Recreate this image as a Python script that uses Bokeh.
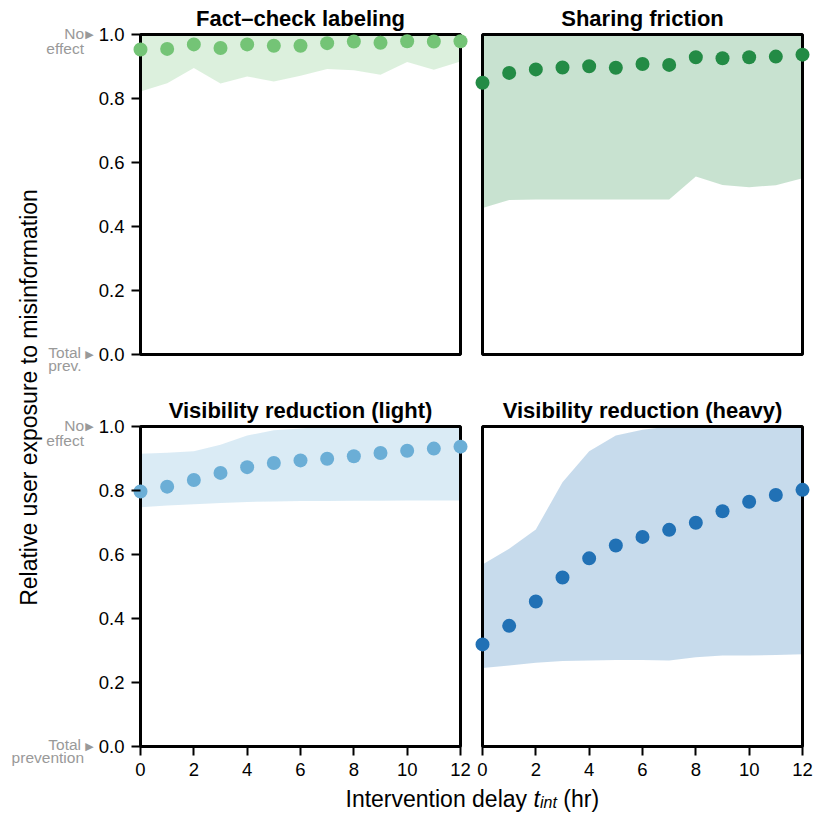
from bokeh.plotting import figure
from bokeh.models import Range1d, Label, FixedTicker, PrintfTickFormatter
from bokeh.layouts import row, column
from bokeh.embed import file_html
from bokeh.resources import INLINE

# ---------------- data ----------------
hours = list(range(13))

fact_mean = [0.953, 0.955, 0.969, 0.958, 0.969, 0.965, 0.965, 0.973, 0.978, 0.974, 0.979, 0.978, 0.979]
fact_lo = [0.822, 0.848, 0.895, 0.847, 0.869, 0.853, 0.871, 0.892, 0.888, 0.874, 0.914, 0.890, 0.916]
fact_hi = [1.0, 1.0, 1.0, 1.0, 1.0, 1.0, 1.0, 1.0, 1.0, 1.0, 1.0, 1.0, 1.0]

friction_mean = [0.849, 0.880, 0.891, 0.897, 0.901, 0.896, 0.908, 0.905, 0.929, 0.926, 0.929, 0.931, 0.937]
friction_lo = [0.458, 0.483, 0.484, 0.484, 0.484, 0.484, 0.484, 0.484, 0.556, 0.530, 0.523, 0.529, 0.551]
friction_hi = [1.0, 1.0, 1.0, 1.0, 1.0, 1.0, 1.0, 1.0, 1.0, 1.0, 1.0, 1.0, 1.0]

light_mean = [0.797, 0.812, 0.833, 0.855, 0.873, 0.886, 0.894, 0.899, 0.907, 0.917, 0.924, 0.931, 0.937]
light_lo = [0.748, 0.753, 0.757, 0.761, 0.764, 0.766, 0.767, 0.767, 0.768, 0.768, 0.769, 0.769, 0.769]
light_hi = [0.915, 0.918, 0.923, 0.943, 0.972, 0.988, 0.994, 1.0, 1.0, 1.0, 1.0, 1.0, 1.0]

heavy_mean = [0.319, 0.377, 0.453, 0.528, 0.588, 0.628, 0.655, 0.677, 0.699, 0.735, 0.765, 0.786, 0.802]
heavy_lo = [0.245, 0.253, 0.262, 0.267, 0.269, 0.270, 0.270, 0.269, 0.279, 0.284, 0.284, 0.286, 0.288]
heavy_hi = [0.569, 0.618, 0.678, 0.826, 0.923, 0.972, 0.990, 1.0, 1.0, 1.0, 1.0, 1.0, 1.0]

titles = ["Fact\u2013check labeling", "Sharing friction",
          "Visibility reduction (light)", "Visibility reduction (heavy)"]
colors = ["#74c476", "#238b45", "#6baed6", "#2171b5"]
y_ticks = [0.0, 0.2, 0.4, 0.6, 0.8, 1.0]
x_ticks = [0, 2, 4, 6, 8, 10, 12]
y_label = "Relative user exposure to misinformation"
top_notes = ["No", "effect"]
bottom_notes_top = ["Total", "prev."]
bottom_notes_bot = ["Total", "prevention"]

# ---------------- style / geometry ----------------
FONT = "Liberation Sans"
GRAY = "#999999"
X0, X1 = 0, 12
Y0, Y1 = 0.0, 1.0
BOX = 320            # data box size (px)
TICK = 9             # tick length = side padding of frame
PT = 2               # top / bottom padding when no ticks

STRIP_W = 95         # left strip holding y label and notes
TL_MBL = 36
TOP_H = 392
BOT_H = 391
TOP_MBT = 32
BOT_MBT = 32
TOP_FH = PT + BOX + PT
BOT_FH = PT + BOX + TICK
L_W = TL_MBL + TICK + BOX + TICK + 2
R_W = 2 + TICK + BOX + TICK + 4
XSTRIP_H = 31


def strip(w, h):
    p = figure(width=w, height=h, x_range=Range1d(0, w), y_range=Range1d(0, h),
               output_backend="svg", toolbar_location=None, title=None,
               x_axis_location=None, y_axis_location=None, min_border=0,
               outline_line_color=None)
    p.grid.visible = False
    return p


def make_panel(title, mean, lo, hi, color, left, bottom, width, height,
               mb_l, mb_r, mb_t, mb_b):
    kx = (X1 - X0) / BOX
    ky = (Y1 - Y0) / BOX
    pb = TICK if bottom else PT
    p = figure(width=width, height=height,
               x_range=Range1d(X0 - TICK * kx, X1 + TICK * kx),
               y_range=Range1d(Y0 - pb * ky, Y1 + PT * ky),
               output_backend="svg", toolbar_location=None, title=title,
               x_axis_location="below" if bottom else None,
               y_axis_location="left" if left else None,
               min_border_left=mb_l, min_border_right=mb_r,
               min_border_top=mb_t, min_border_bottom=mb_b,
               outline_line_color=None)
    p.grid.visible = False
    p.title.align = "center"
    p.title.text_font = FONT
    p.title.text_font_size = "22px"
    p.title.text_font_style = "bold"
    p.title.text_color = "black"
    p.title.standoff = 4

    p.varea(x=hours, y1=lo, y2=hi, fill_color=color, fill_alpha=0.25)
    p.quad(left=[X0], right=[X1], bottom=[Y0], top=[Y1], fill_color=None,
           line_color="black", line_width=3)
    p.scatter(hours, mean, size=14, fill_color=color, line_color=None)

    axes = []
    if left:
        ax = p.yaxis[0]
        ax.ticker = FixedTicker(ticks=y_ticks)
        ax.formatter = PrintfTickFormatter(format="%.1f")
        axes.append(ax)
    if bottom:
        ax = p.xaxis[0]
        ax.ticker = FixedTicker(ticks=x_ticks)
        axes.append(ax)
    for ax in axes:
        ax.axis_line_color = None
        ax.major_tick_in = TICK
        ax.major_tick_out = 0
        ax.major_tick_line_width = 2
        ax.major_tick_line_color = "black"
        ax.minor_tick_line_color = None
        ax.major_label_standoff = 7
        ax.major_label_text_font = FONT
        ax.major_label_text_font_size = "18.5px"
        ax.major_label_text_color = "black"
    return p


tl = make_panel(titles[0], fact_mean, fact_lo, fact_hi, colors[0], True, False,
                L_W, TOP_H, TL_MBL, 2, TOP_MBT, TOP_H - TOP_MBT - TOP_FH)
tr = make_panel(titles[1], friction_mean, friction_lo, friction_hi, colors[1], False, False,
                R_W, TOP_H, 2, 4, TOP_MBT, TOP_H - TOP_MBT - TOP_FH)
bl = make_panel(titles[2], light_mean, light_lo, light_hi, colors[2], True, True,
                L_W, BOT_H, TL_MBL, 2, BOT_MBT, BOT_H - BOT_MBT - BOT_FH)
br = make_panel(titles[3], heavy_mean, heavy_lo, heavy_hi, colors[3], False, True,
                R_W, BOT_H, 2, 4, BOT_MBT, BOT_H - BOT_MBT - BOT_FH)

# ---------------- left strip: y label + notes ----------------
LS_H = TOP_H + BOT_H
ls = strip(STRIP_W, LS_H)
box_left = STRIP_W + TL_MBL + TICK          # page x of the data box
y1_top = TOP_MBT + PT                        # page y of value 1.0 (top row)
y0_top = y1_top + BOX
y1_bot = TOP_H + BOT_MBT + PT
y0_bot = y1_bot + BOX


def flip(py):
    return LS_H - py


ls.add_layout(Label(x=28, y=flip((y1_top + y0_bot) / 2 + 7), angle=1.5707963267948966,
                    text=y_label, text_align="center", text_baseline="middle",
                    text_font=FONT, text_font_size="23px", text_color="black"))

note_kw = dict(text_align="right", text_baseline="alphabetic", text_font=FONT,
               text_font_size="15.5px", text_color=GRAY)
tri_x = box_left - 51
txt_x = box_left - 56.5
for y1p, y0p, lower in ((y1_top, y0_top, bottom_notes_top), (y1_bot, y0_bot, bottom_notes_bot)):
    ls.add_layout(Label(x=txt_x, y=flip(y1p - 1), text=top_notes[0], **note_kw))
    ls.add_layout(Label(x=txt_x, y=flip(y1p + 13.5), text=top_notes[1], **note_kw))
    ls.add_layout(Label(x=txt_x - 3, y=flip(y0p - 2), text=lower[0], **note_kw))
    ls.add_layout(Label(x=txt_x + (0 if lower[1] == "prevention" else -2.5), y=flip(y0p + 11),
                        text=lower[1], **note_kw))
    for yp in (y1p, y0p):
        ls.add_layout(Label(x=tri_x, y=flip(yp), text="\u25B6", text_align="center",
                            text_baseline="middle", text_font="DejaVu Sans",
                            text_font_size="11px", text_color=GRAY))

# ---------------- bottom strip: x label ----------------
XS_W = STRIP_W + L_W + R_W
xs = strip(XS_W, XSTRIP_H)
base = 16
xl_kw = dict(text_baseline="alphabetic", text_align="left", text_font=FONT, text_color="black")
xs.add_layout(Label(x=345, y=base, text="Intervention delay", text_font_size="23px", **xl_kw))
xs.add_layout(Label(x=532.9, y=base, text="t", text_font_size="23px",
                    text_font_style="italic", **xl_kw))
xs.add_layout(Label(x=539.5, y=base - 4, text="int", text_font_size="16px",
                    text_font_style="italic", **xl_kw))
xs.add_layout(Label(x=562.8, y=base, text="(hr)", text_font_size="23px", **xl_kw))

layout = column(row(ls, column(row(tl, tr), row(bl, br))), xs)

open("out.html", "w").write(file_html(layout, INLINE))
